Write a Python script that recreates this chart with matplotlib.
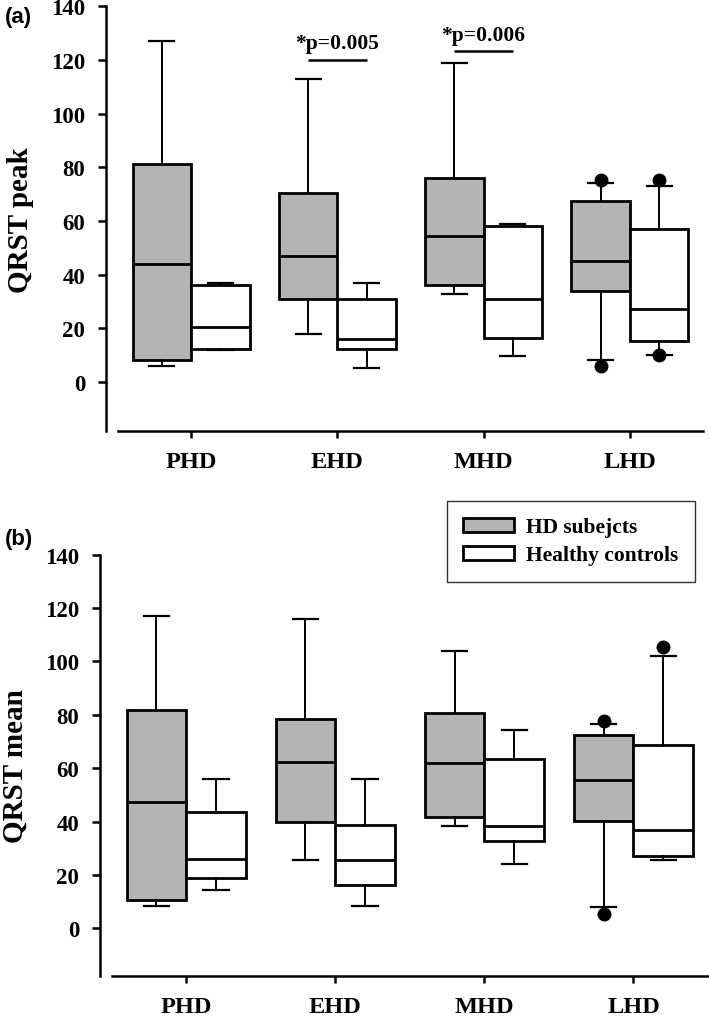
import matplotlib
matplotlib.use("Agg")
import matplotlib.pyplot as plt
from matplotlib.patches import Patch

# ---------------- data ----------------
categories = ["PHD", "EHD", "MHD", "LHD"]
series_names = ["HD subejcts", "Healthy controls"]

# (a) QRST peak - HD subjects
peak_hd_lo = [6.0, 18.0, 33.0, 8.3]
peak_hd_q1 = [8.3, 30.8, 36.0, 33.8]
peak_hd_med = [44.0, 46.8, 54.4, 45.2]
peak_hd_q3 = [81.1, 70.3, 76.1, 67.3]
peak_hd_hi = [127.0, 112.8, 118.9, 74.3]
peak_hd_out = [[], [], [], [75.1, 5.9]]
# (a) QRST peak - Healthy controls
peak_hc_lo = [12.0, 5.1, 9.8, 10.2]
peak_hc_q1 = [12.5, 12.4, 16.6, 15.3]
peak_hc_med = [20.7, 15.9, 30.8, 27.4]
peak_hc_q3 = [36.3, 31.0, 58.3, 57.1]
peak_hc_hi = [36.9, 36.9, 58.9, 73.2]
peak_hc_out = [[], [], [], [75.1, 10.2]]

# (b) QRST mean - HD subjects
mean_hd_lo = [8.4, 25.5, 38.3, 8.0]
mean_hd_q1 = [10.6, 39.7, 41.8, 40.3]
mean_hd_med = [47.2, 62.2, 61.8, 55.4]
mean_hd_q3 = [81.9, 78.4, 80.8, 72.5]
mean_hd_hi = [117.0, 116.1, 104.0, 76.5]
mean_hd_out = [[], [], [], [77.6, 5.4]]
# (b) QRST mean - Healthy controls
mean_hc_lo = [14.4, 8.5, 24.2, 25.6]
mean_hc_q1 = [18.8, 16.2, 32.6, 27.0]
mean_hc_med = [25.8, 25.5, 38.5, 37.0]
mean_hc_q3 = [43.6, 38.7, 63.5, 68.8]
mean_hc_hi = [56.1, 56.1, 74.2, 102.1]
mean_hc_out = [[], [], [], [105.5]]

# significance annotations on panel (a)
sig_index = [1, 2]
sig_text = ["*p=0.005", "*p=0.006"]
sig_level = [120.0, 123.2]

yticks = [0, 20, 40, 60, 80, 100, 120, 140]

# ---------------- style ----------------
SERIF = ["Liberation Serif", "DejaVu Serif"]
SANS = ["Liberation Sans", "DejaVu Sans"]
GRAY = "#b4b4b4"
OFFSET = 0.2
WIDTH = 0.4


def stats(lo, q1, med, q3, hi, out):
    return [dict(whislo=a, q1=b, med=c, q3=d, whishi=e, fliers=f)
            for a, b, c, d, e, f in zip(lo, q1, med, q3, hi, out)]


def draw_group(ax, st, positions, color):
    ax.bxp(st, positions=positions, widths=WIDTH, patch_artist=True,
           capwidths=0.17, showfliers=True,
           boxprops=dict(facecolor=color, edgecolor="black", linewidth=2.0),
           medianprops=dict(color="black", linewidth=2.0),
           whiskerprops=dict(color="black", linewidth=1.4),
           capprops=dict(color="black", linewidth=1.6),
           flierprops=dict(marker="o", markerfacecolor="black",
                           markeredgecolor="black", markersize=9))


def style_axis(ax, ylabel, ymin, left_out, label_x):
    ax.set_xlim(0.5, 4.5)
    ax.set_ylim(ymin, 140)
    ax.spines["top"].set_visible(False)
    ax.spines["right"].set_visible(False)
    ax.spines["left"].set_position(("outward", left_out))
    for s in ("left", "bottom"):
        ax.spines[s].set_linewidth(1.8)
    ax.set_yticks(yticks)
    ax.set_yticklabels([str(v) for v in yticks])
    ax.set_xticks(range(1, len(categories) + 1))
    ax.set_xticklabels(categories)
    ax.tick_params(axis="y", direction="out", length=5.5, width=1.8, pad=9.5)
    ax.tick_params(axis="x", direction="out", length=5, width=1.8, pad=9)
    for lab in ax.get_yticklabels():
        lab.set_fontfamily(SERIF)
        lab.set_fontweight("bold")
        lab.set_fontsize(16.5)
    for lab in ax.get_xticklabels():
        lab.set_fontfamily(SERIF)
        lab.set_fontweight("bold")
        lab.set_fontsize(17.5)
    ax.set_ylabel(ylabel, fontfamily=SERIF, fontweight="bold", fontsize=21)
    ax.yaxis.set_label_coords(label_x, 0.5)


fig = plt.figure(figsize=(7.09, 10.20), dpi=100)
ax1 = fig.add_axes([0.1664, 0.5762, 0.8251, 0.4167])
ax2 = fig.add_axes([0.1575, 0.04186, 0.8411, 0.4133])

x = range(1, len(categories) + 1)
pos_hd = [i - OFFSET for i in x]
pos_hc = [i + OFFSET for i in x]

draw_group(ax1, stats(peak_hd_lo, peak_hd_q1, peak_hd_med, peak_hd_q3, peak_hd_hi, peak_hd_out), pos_hd, GRAY)
draw_group(ax1, stats(peak_hc_lo, peak_hc_q1, peak_hc_med, peak_hc_q3, peak_hc_hi, peak_hc_out), pos_hc, "white")
draw_group(ax2, stats(mean_hd_lo, mean_hd_q1, mean_hd_med, mean_hd_q3, mean_hd_hi, mean_hd_out), pos_hd, GRAY)
draw_group(ax2, stats(mean_hc_lo, mean_hc_q1, mean_hc_med, mean_hc_q3, mean_hc_hi, mean_hc_out), pos_hc, "white")

style_axis(ax1, "QRST peak", -18.3, 8.6, -0.1436)
style_axis(ax2, "QRST mean", -18.0, 8.4, -0.139)

for idx, txt, lvl in zip(sig_index, sig_text, sig_level):
    c = idx + 1
    ax1.plot([c - OFFSET, c + OFFSET], [lvl, lvl], color="black", lw=1.8,
             solid_capstyle="butt", clip_on=False)
    ax1.text(c, lvl + 2.5, txt, ha="center", va="bottom", fontfamily=SERIF,
             fontweight="bold", fontsize=15.5)

fig.text(5 / 709, 1 - 18 / 1020, "(a)", fontfamily=SANS, fontweight="bold",
         fontsize=16, ha="left", va="center")
fig.text(5 / 709, 1 - 539 / 1020, "(b)", fontfamily=SANS, fontweight="bold",
         fontsize=16, ha="left", va="center")

handles = [Patch(facecolor=GRAY, edgecolor="black", linewidth=2.0),
           Patch(facecolor="white", edgecolor="black", linewidth=2.0)]
leg = fig.legend(handles, series_names, loc="upper left",
                 bbox_to_anchor=(446.7 / 709, 1 - 501.7 / 1020),
                 borderaxespad=0, fancybox=False, framealpha=1,
                 edgecolor="#333333", handlelength=2.35, handleheight=0.58,
                 handletextpad=0.55, borderpad=0.78, labelspacing=0.37,
                 prop=dict(family=SERIF, weight="bold", size=15.5))
leg.get_frame().set_linewidth(1.0)

fig.savefig("out.png", dpi=100)
